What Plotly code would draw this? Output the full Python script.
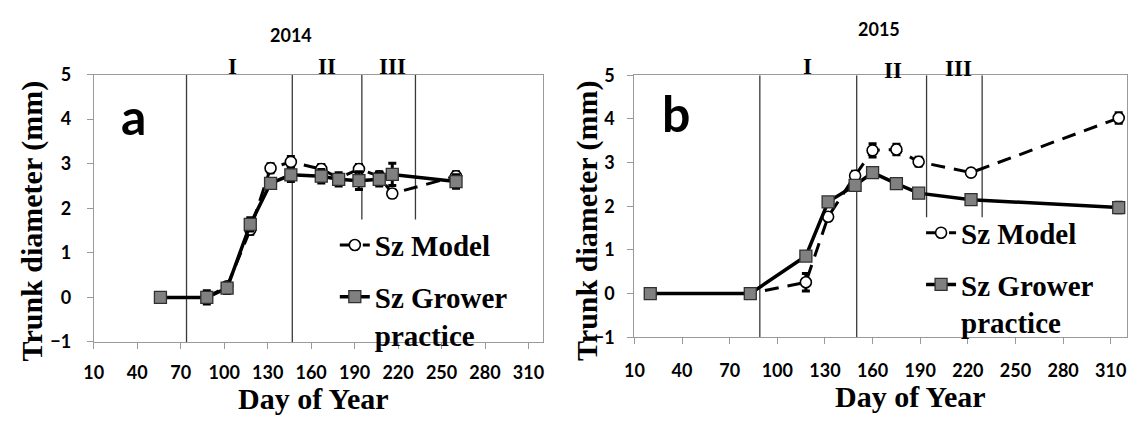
import plotly.graph_objects as go

# ---------------- data ----------------
doy_a = [56, 88, 102, 118, 132, 146, 167, 179, 193, 207, 216, 260]
model_a = [0, 0, 0.25, 1.52, 2.90, 3.04, 2.88, 2.68, 2.88, 2.72, 2.33, 2.72]
model_a_err = [0, 0, 0.05, 0.10, 0.10, 0.12, 0.10, 0.08, 0.10, 0.10, 0.08, 0.10]
grower_a = [0, 0, 0.21, 1.64, 2.56, 2.75, 2.72, 2.65, 2.62, 2.65, 2.76, 2.60]
grower_a_err = [0.05, 0.15, 0.12, 0.15, 0.10, 0.15, 0.15, 0.15, 0.20, 0.15, 0.25, 0.15]

doy_b = [20, 83, 118, 132, 149, 160, 175, 189, 222, 315]
model_b = [0, 0, 0.26, 1.76, 2.70, 3.28, 3.30, 3.02, 2.77, 4.02]
model_b_err = [0, 0, 0.20, 0.08, 0.10, 0.15, 0.12, 0.10, 0.08, 0.12]
grower_b = [0, 0, 0.86, 2.10, 2.48, 2.77, 2.52, 2.30, 2.15, 1.97]
grower_b_err = [0.03, 0.05, 0.08, 0.06, 0.06, 0.05, 0.05, 0.05, 0.05, 0.12]

phase_a = [74, 147, 195, 232]
phase_b = [89, 150, 194, 229]
phase_bottom = [-1, -1, 1.75, 1.75]
phase_names = ["I", "II", "III"]

x_ticks = list(range(10, 311, 30))
y_ticks = list(range(-1, 6))

series_names = ["Sz Model", "Sz Grower<br>practice"]
panel_letters = ["a", "b"]
years = ["2014", "2015"]

W, H = 1133, 425
SERIF = "Liberation Serif"
SANS = "Lato"


def px(x):
    return x / W


def py(y):
    return 1 - y / H


fig = go.Figure()


def add_panel(doy, model, model_err, grower, grower_err, xa, ya, leg):
    fig.add_trace(go.Scatter(
        x=doy, y=model, xaxis=xa, yaxis=ya, name=series_names[0],
        mode="lines+markers", legend=leg, legendgroup=leg + "m",
        line=dict(color="black", width=3, dash="14px,9px"),
        marker=dict(symbol="circle", size=11, color="white",
                    line=dict(color="black", width=1.6)),
        error_y=dict(type="data", array=model_err, color="black",
                     thickness=3, width=4),
    ))
    fig.add_trace(go.Scatter(
        x=doy, y=grower, xaxis=xa, yaxis=ya, name=series_names[1],
        mode="lines+markers", legend=leg, legendgroup=leg + "g",
        line=dict(color="black", width=3.5),
        marker=dict(symbol="square", size=12, color="#808080",
                    line=dict(color="#303030", width=1.3)),
        error_y=dict(type="data", array=grower_err, color="black",
                     thickness=3, width=4),
    ))


add_panel(doy_a, model_a, model_a_err, grower_a, grower_a_err, "x", "y", "legend")
add_panel(doy_b, model_b, model_b_err, grower_b, grower_b_err, "x2", "y2", "legend2")

# phase lines
for xref, yref, phases in (("x", "y", phase_a), ("x2", "y2", phase_b)):
    for d, bot in zip(phases, phase_bottom):
        fig.add_shape(type="line", xref=xref, yref=yref, x0=d, x1=d, y0=bot, y1=5,
                      line=dict(color="#3a3a3a", width=1.3), layer="below")

axis_common = dict(showgrid=False, zeroline=False, showline=True, linecolor="#9a9a9a",
                   linewidth=1.2, mirror=True, ticks="outside", ticklen=6,
                   tickcolor="#9a9a9a", tickwidth=1.2,
                   tickfont=dict(family=SANS, size=18, color="black", weight="bold"))

fig.update_layout(
    width=W, height=H, margin=dict(l=0, r=0, t=0, b=0),
    paper_bgcolor="white", plot_bgcolor="white",
    xaxis=dict(domain=[px(84.6), px(538.2)], range=[10, 320], tickvals=x_ticks,
               anchor="y", ticklabelstandoff=8, **axis_common),
    yaxis=dict(domain=[py(348), py(66)], range=[-1, 5], tickvals=y_ticks,
               anchor="x", ticklabelstandoff=12, **axis_common),
    xaxis2=dict(domain=[px(630.5), px(1127.6)], range=[10, 320], tickvals=x_ticks,
                anchor="y2", ticklabelstandoff=11, **axis_common),
    yaxis2=dict(domain=[py(343), py(66.7)], range=[-1, 5], tickvals=y_ticks,
                anchor="x2", ticklabelstandoff=9, **axis_common),
    legend=dict(x=px(328), y=py(219), xanchor="left", yanchor="top",
                bgcolor="rgba(0,0,0,0)", valign="top", tracegroupgap=11,
                font=dict(family=SERIF, size=29, color="black", weight="bold")),
    legend2=dict(x=px(920), y=py(206), xanchor="left", yanchor="top",
                 bgcolor="rgba(0,0,0,0)", valign="top", tracegroupgap=11,
                 font=dict(family=SERIF, size=29, color="black", weight="bold")),
    showlegend=True,
)

ann = []
# y titles
for xc in (22, 582):
    ann.append(dict(text="Trunk diameter (mm)", x=px(xc), y=py(220), xref="paper", yref="paper",
                    textangle=-90, showarrow=False, xanchor="center", yanchor="middle",
                    font=dict(family=SERIF, size=30, color="black", weight="bold")))
# x titles
for xc, yc in ((306.6, 408), (909, 406)):
    ann.append(dict(text="Day of Year", x=px(xc), y=py(yc), xref="paper", yref="paper",
                    showarrow=False, xanchor="center", yanchor="middle",
                    font=dict(family=SERIF, size=30, color="black", weight="bold")))
# year titles
for yr, xc, yc in zip(years, (284, 878), (24, 17.5)):
    ann.append(dict(text=yr, x=px(xc), y=py(yc), xref="paper", yref="paper",
                    showarrow=False, xanchor="center", yanchor="middle",
                    font=dict(family=SANS, size=18, color="black", weight="bold")))
# panel letters
for lt, xc, yc in zip(panel_letters, (124.6, 673), (110, 107)):
    ann.append(dict(text=lt, x=px(xc), y=py(yc), xref="paper", yref="paper",
                    showarrow=False, xanchor="center", yanchor="middle",
                    font=dict(family=SANS, size=50, color="black", weight="bold")))
# phase labels
for xref, xs, ys in (("x", (106, 171, 216), (57, 58, 58)),
                     ("x2", (119, 173, 214), (58, 62, 60))):
    for name, xv, yv in zip(phase_names, xs, ys):
        ann.append(dict(text=name, x=xv, y=py(yv), xref=xref, yref="paper",
                        showarrow=False, xanchor="center", yanchor="middle",
                        font=dict(family=SERIF, size=23, color="black", weight="bold")))

fig.update_layout(annotations=ann)
fig.write_html("out.html")
